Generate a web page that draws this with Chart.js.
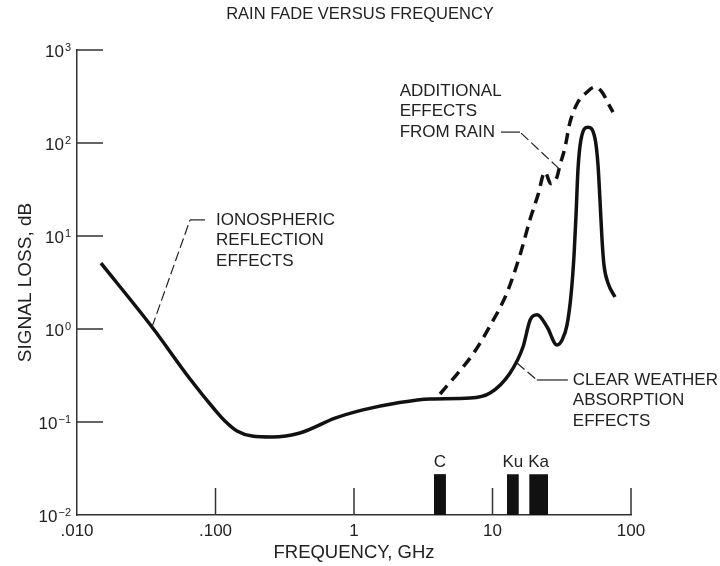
<!DOCTYPE html>
<html lang="en">
<head>
<meta charset="UTF-8">
<title>Rain Fade Versus Frequency</title>
<style>
  html, body { margin: 0; padding: 0; background: #fff; }
</style>
</head>
<body>
<canvas id="fadeChart" width="720" height="566"></canvas>
<script src="https://cdn.jsdelivr.net/npm/chart.js"></script>
<script>
// ---- data (frequency in GHz, loss in dB) ----
const clearFreq = [0.0149, 0.0348, 0.0655, 0.0992, 0.117, 0.143, 0.1835, 0.256, 0.407, 0.73, 1.16, 2.04, 3.54, 6.89, 9.6,
    13.4, 16.6, 18.7, 21.0, 24.8, 29.2, 31.8, 34.5, 36.9, 38.8, 40.1, 41.4, 43.5, 48.9, 54.9, 57.8, 59.7, 61.8, 63.8, 68.2, 76.6];
const clearLoss = [5.1, 1.05, 0.29, 0.1346, 0.1025, 0.080, 0.0706, 0.069, 0.0762, 0.110, 0.135, 0.160, 0.177, 0.181, 0.205,
    0.337, 0.64, 1.25, 1.42, 1.05, 0.673, 0.762, 1.10, 2.32, 6.25, 16.8, 51.3, 108, 148, 113, 57.9, 24.4, 9.06, 4.88, 3.12, 2.21];

const rainFreq = [4.18, 5.55, 7.23, 9.6, 12.7, 15.8, 18.7, 21.3, 23.9, 26.4, 29.2, 30.7, 33.3, 36.3, 41.4, 47.3, 54.9, 61.8, 68.2, 74.1];
const rainLoss = [0.2, 0.328, 0.538, 1.08, 2.44, 6.25, 15.2, 27.6, 48.8, 36.5, 43, 57.9, 88.3, 168, 276, 345, 400, 353, 269, 215];

const bandNames = ['C', 'Ku', 'Ka'];
const bandLow = [3.78, 12.7, 18.4];
const bandHigh = [4.61, 15.5, 25.2];
const bandTop = 0.0275;

const xTicks = [0.01, 0.1, 1, 10, 100];
const xTickLabels = ['.010', '.100', '1', '10', '100'];
const yTicks = [0.01, 0.1, 1, 10, 100, 1000];
const yExponents = ['\u22122', '\u22121', '0', '1', '2', '3'];

const chartTitle = 'RAIN FADE VERSUS FREQUENCY';

// callouts: curve point, elbow point (data units)
const notes = [
    { lines: ['IONOSPHERIC', 'REFLECTION', 'EFFECTS'], at: [0.0348, 1.05], elbow: [0.0655, 14.9], side: 1, arm: 15, gap: 11, row: 0 },
    { lines: ['ADDITIONAL', 'EFFECTS', 'FROM RAIN'], at: [30.2, 53], elbow: [15.8, 131], side: -1, arm: 19, gap: 6, row: 2 },
    { lines: ['CLEAR WEATHER', 'ABSORPTION', 'EFFECTS'], at: [15.0, 0.431], elbow: [20.9, 0.283], side: 1, arm: 31, gap: 5, row: 0 }
];

const FONT = '"Liberation Sans", Arial, Helvetica, sans-serif';
const INK = '#111';
const TEXT = '#222';

const toPoints = (xs, ys) => xs.map((x, i) => ({ x: x, y: ys[i] }));

const bandSets = bandNames.map((name, i) => ({
    label: name,
    data: [{ x: bandLow[i], y: bandTop }, { x: bandHigh[i], y: bandTop }],
    fill: 'start',
    backgroundColor: INK,
    borderWidth: 0,
    pointRadius: 0,
    tension: 0
}));

// title, inward tick marks, y labels with exponents, band names and callouts
const decorations = {
    id: 'decorations',
    afterDatasetsDraw(chart) {
        const ctx = chart.ctx;
        const xs = chart.scales.x, ys = chart.scales.y, area = chart.chartArea;
        ctx.save();

        ctx.fillStyle = TEXT;
        ctx.font = '16.5px ' + FONT;
        ctx.textAlign = 'center';
        ctx.textBaseline = 'middle';
        ctx.fillText(chartTitle, chart.width / 2, 14);

        ctx.strokeStyle = '#333';
        ctx.lineWidth = 1.5;
        ctx.beginPath();
        yTicks.slice(1).forEach(v => {
            const py = ys.getPixelForValue(v);
            ctx.moveTo(area.left, py);
            ctx.lineTo(area.left + 26, py);
        });
        xTicks.slice(1).forEach(v => {
            const px = xs.getPixelForValue(v);
            ctx.moveTo(px, area.bottom);
            ctx.lineTo(px, area.bottom - 27);
        });
        ctx.stroke();

        // y tick labels: 10 with superscript exponent
        ctx.textBaseline = 'alphabetic';
        ctx.textAlign = 'right';
        yTicks.forEach((v, i) => {
            const py = ys.getPixelForValue(v);
            const right = area.left - 6;
            ctx.font = '11px ' + FONT;
            ctx.fillText(yExponents[i], right, py + 1);
            const w = ctx.measureText(yExponents[i]).width;
            ctx.font = '17px ' + FONT;
            ctx.fillText('10', right - w - 1, py + 7);
        });

        // band names
        ctx.textAlign = 'center';
        ctx.textBaseline = 'middle';
        ctx.font = '17px ' + FONT;
        bandNames.forEach((name, i) => {
            const px = xs.getPixelForValue(Math.sqrt(bandLow[i] * bandHigh[i]));
            ctx.fillText(name, px, ys.getPixelForValue(bandTop) - 12);
        });

        // callouts
        ctx.strokeStyle = '#222';
        ctx.lineWidth = 1.2;
        notes.forEach(n => {
            const ax = xs.getPixelForValue(n.at[0]), ay = ys.getPixelForValue(n.at[1]);
            const ex = xs.getPixelForValue(n.elbow[0]), ey = ys.getPixelForValue(n.elbow[1]);
            ctx.setLineDash([10, 4]);
            ctx.beginPath();
            ctx.moveTo(ax, ay);
            ctx.lineTo(ex, ey);
            ctx.stroke();
            ctx.setLineDash([]);
            ctx.beginPath();
            ctx.moveTo(ex, ey);
            ctx.lineTo(ex + n.side * n.arm, ey);
            ctx.stroke();

            ctx.textAlign = 'left';
            ctx.textBaseline = 'middle';
            ctx.font = '17px ' + FONT;
            let left = ex + n.arm + n.gap;
            if (n.side < 0) {
                left = ex - n.arm - n.gap - ctx.measureText(n.lines[n.row]).width;
            }
            n.lines.forEach((t, k) => {
                ctx.fillText(t, left, ey + (k - n.row) * 20.5);
            });
        });
        ctx.restore();
    }
};

const chart = new Chart(document.getElementById('fadeChart'), {
    type: 'line',
    data: {
        datasets: [
            {
                label: 'Clear weather absorption',
                data: toPoints(clearFreq, clearLoss),
                borderColor: INK,
                borderWidth: 3.5,
                pointRadius: 0,
                cubicInterpolationMode: 'monotone',
                fill: false
            },
            {
                label: 'Additional effects from rain',
                data: toPoints(rainFreq, rainLoss),
                borderColor: INK,
                borderWidth: 3.5,
                borderDash: [11, 7],
                pointRadius: 0,
                cubicInterpolationMode: 'monotone',
                fill: false
            },
            ...bandSets
        ]
    },
    options: {
        responsive: false,
        animation: false,
        events: [],
        layout: { padding: { left: 0, right: 89, top: 50, bottom: 0 } },
        plugins: {
            legend: { display: false },
            tooltip: { enabled: false },
            title: { display: false }
        },
        scales: {
            x: {
                type: 'logarithmic',
                min: 0.01,
                max: 100,
                afterBuildTicks: s => { s.ticks = xTicks.map(v => ({ value: v })); },
                afterFit: s => { s.height = 51; },
                grid: { display: false, drawTicks: false },
                border: { display: true, color: '#333', width: 1.5 },
                ticks: {
                    autoSkip: false,
                    maxRotation: 0,
                    padding: 6,
                    color: TEXT,
                    font: { family: FONT, size: 17 },
                    callback: (v, i) => xTickLabels[i]
                },
                title: {
                    display: true,
                    text: 'FREQUENCY, GHz',
                    color: TEXT,
                    font: { family: FONT, size: 18.5 },
                    padding: { top: 0, bottom: 2 }
                }
            },
            y: {
                type: 'logarithmic',
                min: 0.01,
                max: 1000,
                afterBuildTicks: s => { s.ticks = yTicks.map(v => ({ value: v })); },
                afterFit: s => { s.width = 77; },
                grid: { display: false, drawTicks: false },
                border: { display: true, color: '#333', width: 1.5 },
                ticks: { display: false },
                title: {
                    display: true,
                    text: 'SIGNAL LOSS, dB',
                    color: TEXT,
                    font: { family: FONT, size: 19 },
                    padding: { top: 14, bottom: 0 }
                }
            }
        }
    },
    plugins: [decorations]
});
</script>
</body>
</html>
